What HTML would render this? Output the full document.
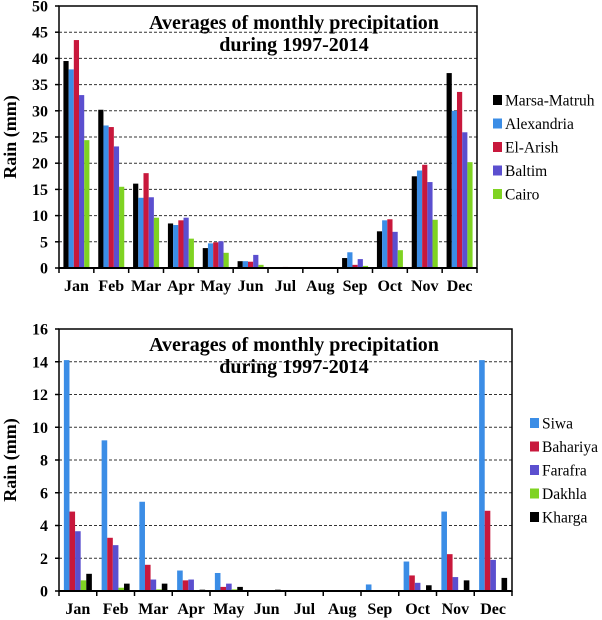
<!DOCTYPE html>
<html><head><meta charset="utf-8"><style>
body{margin:0;background:#fff;}
svg{display:block;}
svg text{font-family:"Liberation Serif","Times New Roman",serif;}
</style></head><body>
<svg id="c" width="602" height="620"></svg>
<script>
const months=["Jan","Feb","Mar","Apr","May","Jun","Jul","Aug","Sep","Oct","Nov","Dec"];
const topNames=["Marsa-Matruh","Alexandria","El-Arish","Baltim","Cairo"];
const topColors=["#000000","#3b8de6","#c8183c","#5b4fcf","#7fd322"];
const marsa=[39.5,30.2,16.1,8.5,3.8,1.3,0,0,1.9,7,17.5,37.2];
const alex=[37.9,27.2,13.4,8.2,4.7,1.3,0,0,3.0,9.1,18.6,30];
const arish=[43.5,26.9,18.1,9.1,4.9,1.2,0.2,0,0.6,9.3,19.7,33.6];
const baltim=[33,23.2,13.5,9.6,5.1,2.5,0,0.1,1.7,6.9,16.4,25.9];
const cairo=[24.4,15.5,9.6,5.6,2.9,0.6,0,0,0.4,3.4,9.2,20.2];
const topTicks=[0,5,10,15,20,25,30,35,40,45,50];
const botNames=["Siwa","Bahariya","Farafra","Dakhla","Kharga"];
const botColors=["#3b8de6","#c8183c","#5b4fcf","#7fd322","#000000"];
const siwa=[14.1,9.2,5.45,1.25,1.1,0.05,0,0,0.4,1.8,4.85,14.1];
const bahariya=[4.85,3.25,1.6,0.65,0.25,0,0,0.03,0.05,0.95,2.25,4.9];
const farafra=[3.65,2.8,0.7,0.7,0.45,0,0,0,0,0.5,0.85,1.9];
const dakhla=[0.65,0.2,0.1,0,0.1,0,0,0,0,0,0,0.05];
const kharga=[1.05,0.45,0.45,0.08,0.25,0.08,0,0,0,0.35,0.65,0.8];
const botTicks=[0,2,4,6,8,10,12,14,16];

const svg=document.getElementById('c');
const NS="http://www.w3.org/2000/svg";
const FF='"Liberation Serif","Times New Roman",serif';
function mk(tag,attrs,parent){const e=document.createElementNS(NS,tag);for(const k in attrs)e.setAttribute(k,attrs[k]);if(tag==='text')e.setAttribute('font-family',FF);(parent||svg).appendChild(e);return e;}

function chart(cfg){
  const g=mk('g',{});
  
  
  const {x0,x1,y0,y1,max}=cfg;
  const ys=v=>y0-(v/max)*(y0-y1);
  const bw=(x1-x0)/12;
  cfg.ticks.forEach(t=>{
    if(t>0&&t<max){const l=mk('line',{x1:x0,x2:x1,y1:ys(t),y2:ys(t),stroke:'#333','stroke-width':1,'stroke-dasharray':'3,2'},g);
    }
    const tx=mk('text',{x:x0-11,y:ys(t)+5.5,'text-anchor':'end','font-size':16,'font-weight':'bold'},g);
    
    tx.textContent=t;
    mk('line',{x1:x0-4,x2:x0,y1:ys(t),y2:ys(t),stroke:'#000','stroke-width':1.5},g);
  });
  const frame=mk('rect',{x:x0,y:y1,width:x1-x0,height:y0-y1,fill:'none',stroke:'#000','stroke-width':1.5},g);
  
  const bar=cfg.barW, gw=bar*5, off=(bw-gw)/2;
  cfg.series.forEach((s,si)=>{
    s.forEach((v,mi)=>{
      const h=y0-ys(v);
      if(h<=0)return;
      const r=mk('rect',{x:x0+mi*bw+off+si*bar,y:ys(v),width:bar,height:h,fill:cfg.colors[si]},g);
      
      
    });
  });
  for(let i=0;i<=12;i++) mk('line',{x1:x0+i*bw,x2:x0+i*bw,y1:y0,y2:y0+5,stroke:'#000','stroke-width':1.5},g);
  mk('line',{x1:x0,x2:x1,y1:y0,y2:y0,stroke:'#000','stroke-width':2},g);
  months.forEach((m,i)=>{
    const t=mk('text',{x:x0+(i+0.5)*bw,y:y0+23,'text-anchor':'middle','font-size':16,'font-weight':'bold'},g);
    
    t.textContent=m;
  });
  const yt=mk('text',{transform:`translate(16,${(y0+y1)/2}) rotate(-90)`,'text-anchor':'middle','font-size':18,'font-weight':'bold'},g);
  
  yt.textContent='Rain (mm)';
  const t1=mk('text',{x:294,y:cfg.titleY,'text-anchor':'middle','font-size':20,'font-weight':'bold'},g);
  
  t1.textContent='Averages of monthly precipitation';
  const t2=mk('text',{x:294,y:cfg.titleY+22,'text-anchor':'middle','font-size':20,'font-weight':'bold'},g);
  
  t2.textContent='during 1997-2014';
  cfg.names.forEach((n,i)=>{
    const y=cfg.legY+i*23.5;
    const sq=mk('rect',{x:cfg.legX,y:y-5,width:9,height:10,fill:cfg.colors[i]},g);
    
    const lt=mk('text',{x:cfg.legX+12,y:y+5.5,'font-size':15.5},g);
    
    lt.textContent=n;
  });
}
chart({name:'coastal-chart',x0:59,x1:477,y0:268,y1:6,max:50,ticks:topTicks,barW:5.2,
  series:[marsa,alex,arish,baltim,cairo],colors:topColors,names:topNames,titleY:29,legX:493,legY:100});
chart({name:'oasis-chart',x0:59,x1:512,y0:591,y1:329,max:16,ticks:botTicks,barW:5.6,
  series:[siwa,bahariya,farafra,dakhla,kharga],colors:botColors,names:botNames,titleY:351,legX:530,legY:423});
</script>
</body></html>
